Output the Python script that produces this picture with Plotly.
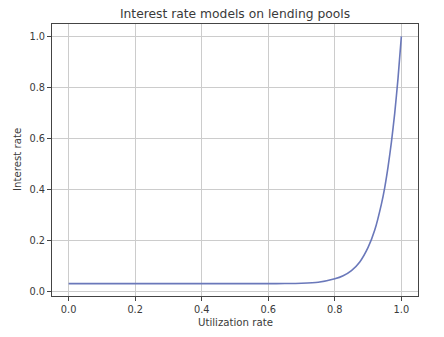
import plotly.graph_objects as go

# Values
utilization = [0.0, 0.1, 0.2, 0.3, 0.4, 0.5, 0.6, 0.65, 0.7, 0.75, 0.8, 0.825,
               0.85, 0.875, 0.9, 0.92, 0.94, 0.95, 0.96, 0.97, 0.98, 0.99, 1.0]
interest = [0.030, 0.030, 0.030, 0.030, 0.030, 0.030, 0.0301, 0.0304, 0.0316, 0.0355,
            0.049, 0.061, 0.081, 0.115, 0.172, 0.240, 0.342, 0.407, 0.488, 0.584,
            0.698, 0.836, 1.0]
x_ticks = [0.0, 0.2, 0.4, 0.6, 0.8, 1.0]
y_ticks = [0.0, 0.2, 0.4, 0.6, 0.8, 1.0]

W, H = 444, 337
L, R, T, B = 52, 26, 24, 41
txt = "#3a3a3a"
font = "DejaVu Sans"

fig = go.Figure()
fig.add_trace(go.Scatter(x=utilization, y=interest, mode="lines",
                         line=dict(color="#6a78ba", width=1.6, shape="spline", smoothing=0.6),
                         showlegend=False, hoverinfo="skip"))

axis_common = dict(showgrid=True, gridcolor="#cccccc", gridwidth=1,
                   showline=True, linecolor="#444444", linewidth=1, mirror=True,
                   ticks="outside", ticklen=4, tickcolor="#444444", tickwidth=1,
                   zeroline=False, tickfont=dict(family=font, size=9.8, color=txt))

fig.update_xaxes(range=[-0.05, 1.05], tickvals=x_ticks,
                 ticktext=[f"{v:.1f}" for v in x_ticks], **axis_common)
fig.update_yaxes(range=[-0.0185, 1.0485], tickvals=y_ticks,
                 ticktext=[f"{v:.1f}" for v in y_ticks], **axis_common)

fig.update_layout(
    width=W, height=H, autosize=False,
    margin=dict(l=L, r=R, t=T, b=B, pad=0),
    paper_bgcolor="white", plot_bgcolor="white",
    font=dict(family=font, color=txt),
    title=dict(text="Interest rate models on lending pools", x=(L + (W - R)) / 2 / W,
               xanchor="center", y=1 - 14 / H, yanchor="middle", yref="container",
               font=dict(family=font, size=12.3, color=txt)),
    annotations=[
        dict(text="Utilization rate", xref="paper", yref="paper", x=0.5,
             y=-(322.7 - (H - B)) / (H - T - B), xanchor="center", yanchor="middle",
             showarrow=False, font=dict(family=font, size=10.2, color=txt)),
        dict(text="Interest rate", xref="paper", yref="paper",
             x=-(L - 17) / (W - L - R), y=0.5, xanchor="center", yanchor="middle",
             textangle=-90, showarrow=False, font=dict(family=font, size=10.2, color=txt)),
    ],
)

fig.write_html("out.html")
